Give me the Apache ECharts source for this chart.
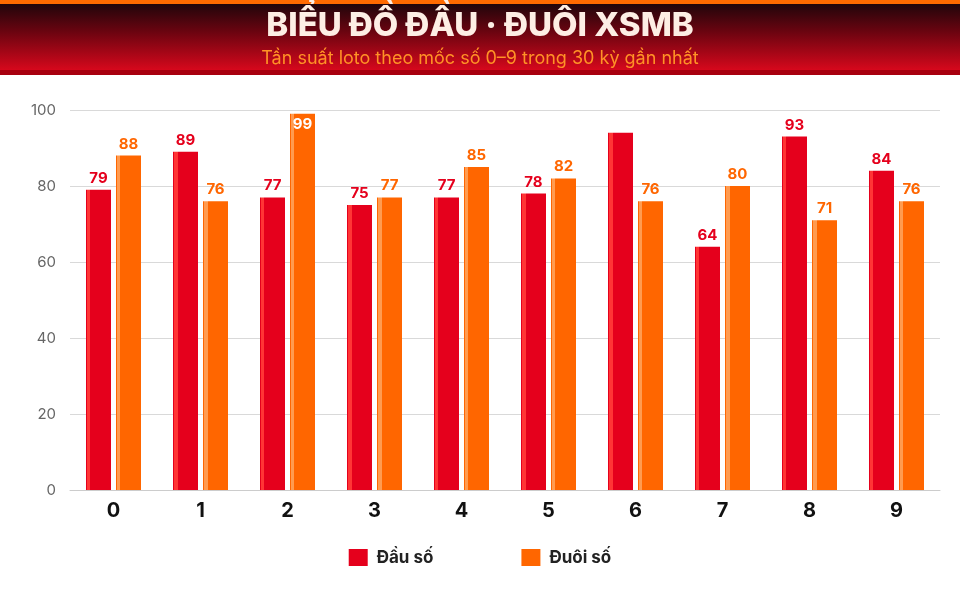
<!DOCTYPE html>
<html>
<head>
<meta charset="utf-8">
<script src="https://cdn.jsdelivr.net/npm/echarts@6/dist/echarts.min.js"></script>
<style>
  html, body { margin: 0; padding: 0; background: #fff; }
  #chart { width: 960px; height: 600px; }
</style>
</head>
<body>
<div id="chart"></div>
<script>
const digits = ['0', '1', '2', '3', '4', '5', '6', '7', '8', '9'];
const dauSo = [79, 89, 77, 75, 77, 78, 94, 64, 93, 84];
const duoiSo = [88, 76, 99, 77, 85, 82, 76, 80, 71, 76];
const yTicks = [0, 20, 40, 60, 80, 100];

const FONT = 'Inter, "Noto Sans", sans-serif';
const RED = '#e5001c';
const ORANGE = '#ff6600';

// bar fill with a thin light stripe on the left edge
function stripe(base, light) {
    return {
        type: 'linear', x: 0, y: 0, x2: 1, y2: 0,
        colorStops: [
            { offset: 0, color: base },
            { offset: 0.04, color: base },
            { offset: 0.04, color: light },
            { offset: 0.18, color: light },
            { offset: 0.18, color: base },
            { offset: 1, color: base }
        ]
    };
}

function buildData(values, hideIdx) {
    return values.map((v, i) => {
        const item = { value: v };
        if (hideIdx.includes(i)) {
            item.label = { show: false };
        } else if (v >= 99) {
            item.label = { position: 'insideTop', color: '#fff', distance: 3 };
        }
        return item;
    });
}

const chart = echarts.init(document.getElementById('chart'));
chart.setOption({
    animation: false,
    textStyle: { fontFamily: FONT },
    graphic: [
        { type: 'rect', z: -1, shape: { x: 0, y: 0, width: 960, height: 75 }, style: { fill: '#a8000f' } },
        {
            type: 'rect', z: -1, shape: { x: 0, y: 0, width: 960, height: 70 },
            style: {
                fill: {
                    type: 'linear', x: 0, y: 0, x2: 0, y2: 1,
                    colorStops: [
                        { offset: 0, color: '#16060a' },
                        { offset: 0.45, color: '#6a0410' },
                        { offset: 1, color: '#d6081c' }
                    ]
                }
            }
        },
        { type: 'rect', z: -1, shape: { x: 0, y: 0, width: 960, height: 4 }, style: { fill: '#ff6a00' } }
    ],
    title: [
        {
            text: 'BIỂU ĐỒ ĐẦU · ĐUÔI XSMB',
            left: 'center', top: 5,
            textStyle: { color: '#fdeee4', fontSize: 33, fontWeight: 800, fontFamily: FONT }
        },
        {
            text: 'Tần suất loto theo mốc số 0–9 trong 30 kỳ gần nhất',
            left: 'center', top: 45,
            textStyle: { color: '#ff9226', fontSize: 18, fontWeight: 'normal', fontFamily: FONT }
        }
    ],
    legend: {
        bottom: 29,
        left: 'center',
        icon: 'rect',
        itemWidth: 19,
        itemHeight: 17,
        itemGap: 88,
        textStyle: { fontSize: 17, fontWeight: 'bold', color: '#222', fontFamily: FONT, padding: [0, 0, 0, 4] },
        data: [
            { name: 'Đầu số', itemStyle: { color: RED } },
            { name: 'Đuôi số', itemStyle: { color: ORANGE } }
        ]
    },
    grid: { left: 70, right: 20, top: 110, bottom: 110 },
    xAxis: {
        type: 'category',
        data: digits,
        axisTick: { show: false },
        axisLine: { lineStyle: { color: '#cccccc' } },
        axisLabel: { fontSize: 20, fontWeight: 'bold', color: '#111', margin: 11, fontFamily: FONT }
    },
    yAxis: {
        type: 'value',
        min: yTicks[0],
        max: yTicks[yTicks.length - 1],
        interval: 20,
        axisLine: { show: false },
        axisTick: { show: false },
        axisLabel: { fontSize: 15, color: '#666', margin: 14, fontFamily: FONT },
        splitLine: { lineStyle: { color: '#d9d9d9' } }
    },
    series: [
        {
            name: 'Đầu số',
            type: 'bar',
            barWidth: 25,
            barGap: '20%',
            itemStyle: { color: stripe(RED, '#ff3535') },
            label: { show: true, position: 'top', distance: 4, color: RED, fontSize: 15, fontWeight: 'bold', fontFamily: FONT },
            data: buildData(dauSo, [6])
        },
        {
            name: 'Đuôi số',
            type: 'bar',
            barWidth: 25,
            itemStyle: { color: stripe(ORANGE, '#ff9b50') },
            label: { show: true, position: 'top', distance: 4, color: ORANGE, fontSize: 15, fontWeight: 'bold', fontFamily: FONT },
            data: buildData(duoiSo, [])
        }
    ]
});
</script>
</body>
</html>
